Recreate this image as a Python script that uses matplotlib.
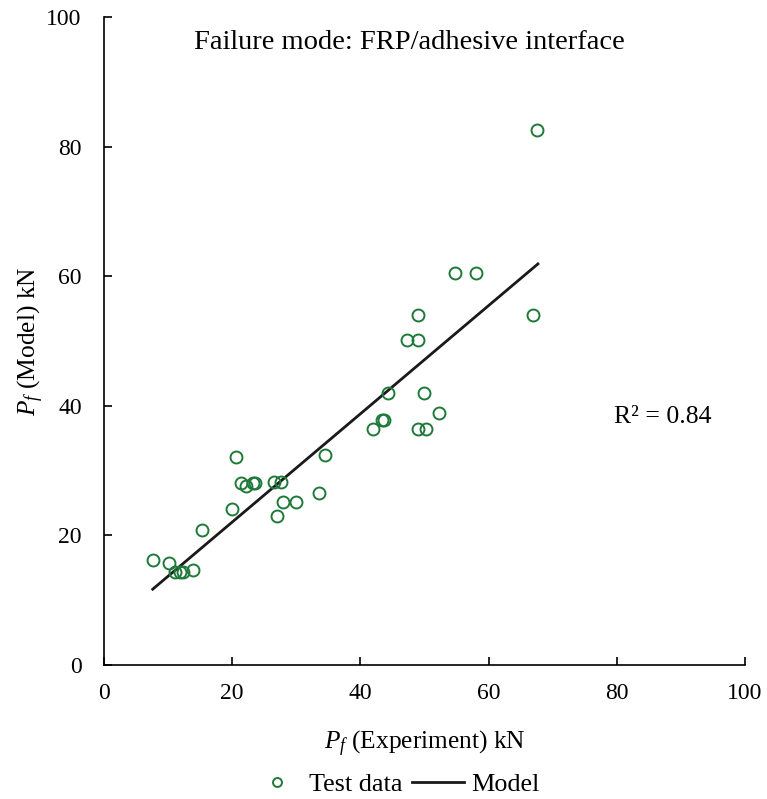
import numpy as np
import matplotlib
matplotlib.use("Agg")
import matplotlib.pyplot as plt

plt.rcParams['font.family'] = ['Liberation Serif', 'DejaVu Serif']
plt.rcParams['mathtext.fontset'] = 'custom'
plt.rcParams['mathtext.rm'] = 'Liberation Serif'
plt.rcParams['mathtext.it'] = 'Liberation Serif:italic'

# test data (kN)
exp_kn = [7.6, 10.2, 11.0, 11.8, 12.3, 13.9, 15.3, 20.0, 20.6, 21.4, 22.2,
          23.3, 23.6, 26.5, 27.6, 27.0, 27.9, 30.0, 33.5, 34.5,
          42.0, 43.4, 43.7, 44.3, 47.3, 49.0, 49.0, 49.0, 49.9, 50.2, 52.3,
          54.8, 58.0, 66.9, 67.5]
model_kn = [16.2, 15.7, 14.4, 14.4, 14.4, 14.6, 20.8, 24.1, 32.1, 28.1, 27.6,
            28.1, 28.1, 28.2, 28.2, 23.0, 25.2, 25.2, 26.6, 32.4,
            36.4, 37.8, 37.8, 42.0, 50.1, 54.0, 50.1, 36.4, 42.0, 36.4, 38.9,
            60.5, 60.5, 54.0, 82.6]

# model line (trend)
line_x = [7.6, 67.7]
line_y = [11.7, 61.9]

fig = plt.figure(figsize=(7.67, 7.99), dpi=100)
ax = fig.add_axes([0.1356, 0.1677, 0.8357, 0.811])

green = '#1f7a3a'
ax.plot(exp_kn, model_kn, 'o', ms=8.6, mfc='none', mec=green, mew=1.4,
        label='Test data', zorder=3)
ax.plot(line_x, line_y, '-', color='#1a1a1a', lw=2.0, label='Model', zorder=2)

ax.set_xlim(0, 100)
ax.set_ylim(0, 100)
ax.set_xticks(np.arange(0, 101, 20))
ax.set_yticks(np.arange(0, 101, 20))
ax.tick_params(direction='in', length=6, width=1.2, labelsize=17)
ax.tick_params(axis='x', pad=13)
ax.tick_params(axis='y', pad=16)
for s in ['top', 'right']:
    ax.spines[s].set_visible(False)
for s in ['left', 'bottom']:
    ax.spines[s].set_linewidth(1.2)

ax.set_xlabel('$P_f$ (Experiment) kN', fontsize=18.3)
ax.set_ylabel('$P_f$ (Model) kN', fontsize=18.3)
ax.xaxis.set_label_coords(0.5, -0.099)
ax.yaxis.set_label_coords(-0.09, 0.5)

ax.text(0.477, 0.96, 'Failure mode: FRP/adhesive interface', transform=ax.transAxes,
        ha='center', va='center', fontsize=20.5)
ax.text(0.872, 0.383, 'R² = 0.84', transform=ax.transAxes,
        ha='center', va='center', fontsize=18.5)

leg = fig.legend(loc='center', bbox_to_anchor=(0.515, 0.018), ncol=2, frameon=False,
                 fontsize=18.8, handlelength=2.0, columnspacing=0.35, handletextpad=0.25,
                 markerscale=0.75)

fig.savefig('out.png', dpi=100)
